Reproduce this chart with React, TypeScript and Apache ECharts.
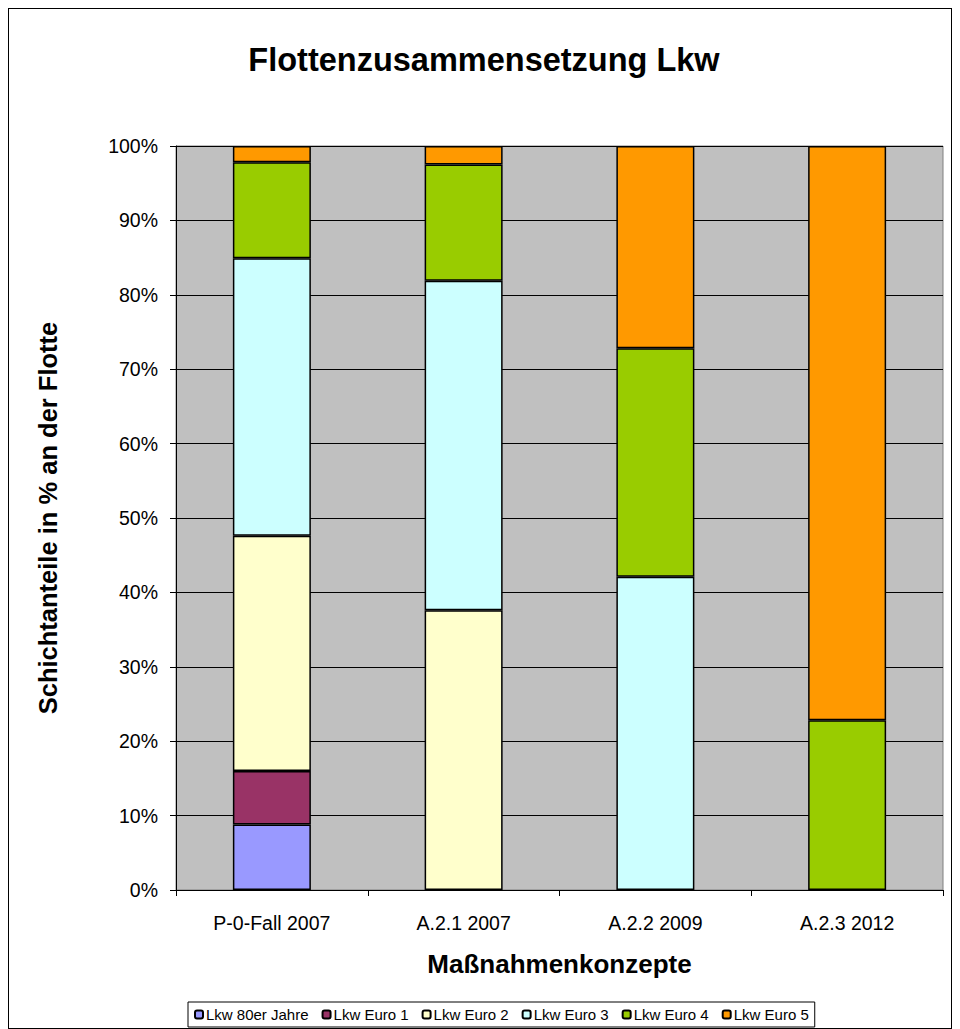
import React, { useEffect, useRef } from "react";
import * as echarts from "echarts";

const categories = ["P-0-Fall 2007", "A.2.1 2007", "A.2.2 2009", "A.2.3 2012"];
const seriesNames = ["Lkw 80er Jahre", "Lkw Euro 1", "Lkw Euro 2", "Lkw Euro 3", "Lkw Euro 4", "Lkw Euro 5"];
const lkw80er = [8.8, 0, 0, 0];
const euro1 = [7.2, 0, 0, 0];
const euro2 = [31.6, 37.6, 0, 0];
const euro3 = [37.3, 44.3, 42.1, 0];
const euro4 = [12.9, 15.6, 30.7, 22.8];
const euro5 = [2.2, 2.5, 27.2, 77.2];
const seriesColors = ["#9999FF", "#993366", "#FFFFCC", "#CCFFFF", "#99CC00", "#FF9900"];
const yTicks = [0, 10, 20, 30, 40, 50, 60, 70, 80, 90, 100];

export default function App() {
  const ref = useRef<HTMLDivElement>(null);
  useEffect(() => {
    if (!ref.current) return;
    const chart = echarts.init(ref.current, null, { renderer: "svg" });
    const data = [lkw80er, euro1, euro2, euro3, euro4, euro5];
    const font = "Liberation Sans, Arial, sans-serif";
    chart.setOption({
      animation: false,
      title: {
        text: "Flottenzusammensetzung Lkw",
        left: 476,
        textAlign: "center",
        top: 35,
        padding: 0,
        textStyle: { fontFamily: font, fontSize: 32.5, fontWeight: "bold", color: "#000" },
      },
      legend: {
        left: 180,
        top: 994,
        orient: "horizontal",
        itemWidth: 8,
        itemHeight: 8,
        itemGap: 13,
        padding: [5, 6],
        borderColor: "#000",
        borderWidth: 1,
        textStyle: { fontFamily: font, fontSize: 15, color: "#000", padding: [0, 0, 0, -2] },
        data: seriesNames,
      },
      grid: {
        left: 168,
        top: 138,
        width: 767,
        height: 744,
        show: true,
        backgroundColor: "#C0C0C0",
        borderColor: "#808080",
        borderWidth: 1,
      },
      xAxis: {
        type: "category",
        data: categories,
        name: "Maßnahmenkonzepte",
        nameLocation: "middle",
        nameGap: 61,
        nameTextStyle: { fontFamily: font, fontSize: 26, fontWeight: "bold", color: "#000" },
        axisLine: { lineStyle: { color: "#000", width: 1 } },
        axisTick: { show: true, length: 6, lineStyle: { color: "#000" } },
        axisLabel: { fontFamily: font, fontSize: 19.5, color: "#000", margin: 23 },
        splitLine: { show: false },
      },
      yAxis: {
        type: "value",
        min: 0,
        max: 100,
        interval: 10,
        name: "Schichtanteile in % an der Flotte",
        nameLocation: "middle",
        nameGap: 115,
        nameTextStyle: { fontFamily: font, fontSize: 25.5, fontWeight: "bold", color: "#000" },
        axisLine: { show: true, lineStyle: { color: "#000", width: 1 } },
        axisTick: { show: true, length: 6, lineStyle: { color: "#000" } },
        axisLabel: {
          fontFamily: font,
          fontSize: 19.5,
          color: "#000",
          margin: 18,
          formatter: (v: number) => (yTicks.includes(v) ? v + "%" : ""),
        },
        splitLine: { show: true, lineStyle: { color: "#000", width: 1 } },
      },
      series: seriesNames.map((name, i) => ({
        name,
        type: "bar",
        stack: "total",
        barWidth: 78,
        data: data[i].map((v) => (v === 0 ? null : v)),
        itemStyle: { color: seriesColors[i], borderColor: "#000", borderWidth: 1.5 },
      })),
    });
    return () => chart.dispose();
  }, []);
  return (
    <div
      style={{
        width: 944,
        height: 1021,
        outline: "1px solid #000",
        outlineOffset: -1,
        overflow: "hidden",
      }}
    >
      <div ref={ref} style={{ width: 944, height: 1021 }} />
    </div>
  );
}
